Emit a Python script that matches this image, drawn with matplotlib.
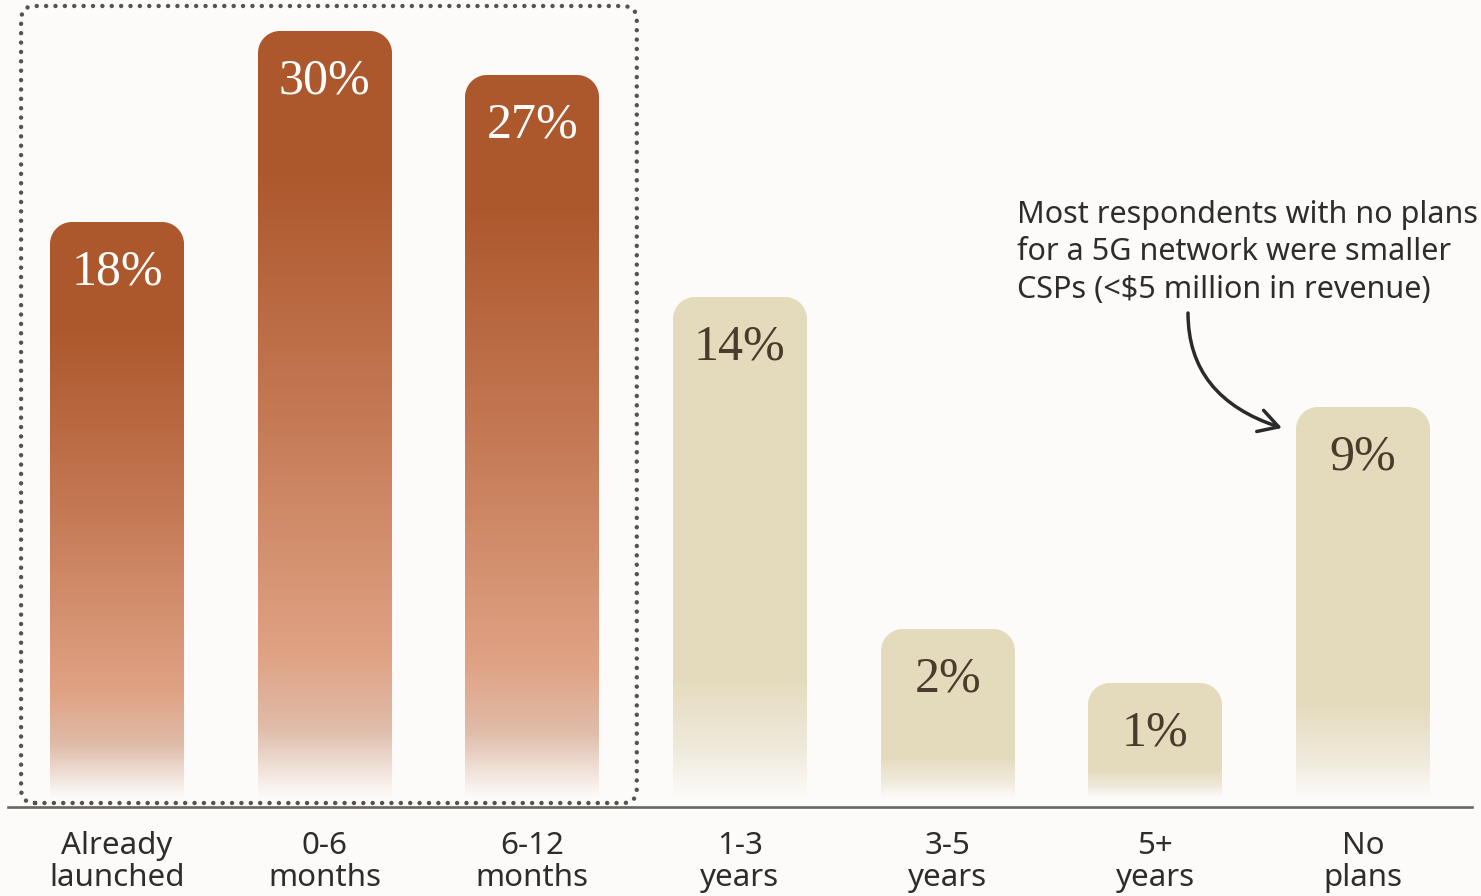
import numpy as np
import matplotlib
matplotlib.use("Agg")
import matplotlib.pyplot as plt
from matplotlib.patches import FancyBboxPatch, FancyArrowPatch
from matplotlib.colors import to_rgb
from matplotlib.transforms import IdentityTransform

# ---- data -------------------------------------------------------------
categories = ["Already\nlaunched", "0-6\nmonths", "6-12\nmonths",
              "1-3\nyears", "3-5\nyears", "5+\nyears", "No\nplans"]
shares = [18, 30, 27, 14, 2, 1, 9]
value_labels = ["18%", "30%", "27%", "14%", "2%", "1%", "9%"]
near_term = [True, True, True, False, False, False, False]
note = ("Most respondents with no plans\n"
        "for a 5G network were smaller\n"
        "CSPs (<$5 million in revenue)")

# ---- style ------------------------------------------------------------
W, H, DPI = 1481, 896, 100
BG = "#FCFBF9"
SANS = ["Noto Sans", "DejaVu Sans"]
SERIF = ["Liberation Serif", "DejaVu Serif"]
TEXT = "#2F2D2B"
RUST_STOPS = [(0.00, "#AD572C"), (0.18, "#AD572C"), (0.50, "#C47954"),
              (0.82, "#E0A385"), (0.91, "#DFBCA9"), (1.00, BG)]
SAND_STOPS = [(0.00, "#E4DBBD"), (0.76, "#E4DBBD"), (0.90, "#EFE9DA"),
              (1.00, BG)]
POWER = 0.56
Y_TOP = 32.2
BAR_W = 0.645
RADIUS = 22


def fwd(v):
    v = np.asarray(v, dtype=float)
    return np.sign(v) * np.abs(v) ** POWER


def inv(v):
    v = np.asarray(v, dtype=float)
    return np.sign(v) * np.abs(v) ** (1.0 / POWER)


def bar_image(w, h, stops, radius):
    t = (np.arange(h) + 0.5) / h
    pos = [s[0] for s in stops]
    cols = [to_rgb(s[1]) for s in stops]
    rgb = np.stack([np.interp(t, pos, [c[k] for c in cols]) for k in range(3)], axis=-1)
    img = np.ones((h, w, 4))
    img[:, :, :3] = rgb[:, None, :]
    yy, xx = np.mgrid[0:h, 0:w] + 0.5
    cx = np.clip(xx, radius, w - radius)
    cy = np.maximum(yy, radius)
    d = np.hypot(xx - cx, yy - cy)
    img[:, :, 3] = np.clip(radius - d + 0.5, 0, 1)
    return img


fig = plt.figure(figsize=(W / DPI, H / DPI), dpi=DPI, facecolor=BG)
ax = fig.add_axes([8 / W, (H - 797) / H, 1464 / W, 797 / H])
ax.set_facecolor("none")
ax.set_yscale("function", functions=(fwd, inv))
ax.set_xlim(-0.525, 6.525)
ax.set_ylim(0, Y_TOP)

x = np.arange(len(shares))
bars = ax.bar(x, shares, width=BAR_W, color="none", edgecolor="none")

# gradient fills with rounded tops, sized from each bar's extent
for patch, near in zip(bars, near_term):
    bb = patch.get_window_extent()
    x0, y0 = int(round(bb.x0)), int(round(bb.y0))
    w, h = int(round(bb.width)), int(round(bb.height))
    img = bar_image(w, h, RUST_STOPS if near else SAND_STOPS, RADIUS)
    fig.figimage(img, xo=x0, yo=y0, origin="upper", zorder=-1)

# value labels inside the bar tops
for xi, v, lbl, near in zip(x, shares, value_labels, near_term):
    ax.annotate(lbl, xy=(xi, v), xytext=(0, -45), textcoords="offset points",
                ha="center", va="baseline", fontsize=36, family=SERIF,
                color="#FFFFFF" if near else "#4B3B2C")

# axis styling
for side in ("top", "right", "left"):
    ax.spines[side].set_visible(False)
ax.spines["bottom"].set_position(("outward", 7.2))
ax.spines["bottom"].set_color("#6B6661")
ax.spines["bottom"].set_linewidth(1.9)
ax.yaxis.set_visible(False)
ax.set_xticks(x, categories)
ax.tick_params(axis="x", length=0, pad=17.5, labelsize=22.5, labelcolor=TEXT)
for lbl in ax.get_xticklabels():
    lbl.set_family(SANS)
    lbl.set_linespacing(1.08)

# dotted frame around the near-term group
left = ax.transData.transform((-0.462, 0))[0]
right = ax.transData.transform((2.503, 0))[0]
frame = FancyBboxPatch((left, H - 803), right - left, 803 - 6,
                       boxstyle="round,pad=0,rounding_size=14",
                       transform=IdentityTransform(), fill=False,
                       edgecolor="#57524E", linewidth=3.2,
                       linestyle=(0, (0.01, 2.1)), capstyle="round")
fig.add_artist(frame)

# callout
fig.text(1017 / W, 1 - 200 / H, note, ha="left", va="top", fontsize=22,
         family=SANS, color=TEXT, linespacing=1.32)
arrow = FancyArrowPatch((1188 / W, 1 - 313 / H), (1282 / W, 1 - 428 / H),
                        transform=fig.transFigure,
                        connectionstyle="angle3,angleA=90,angleB=-18",
                        arrowstyle="->,head_length=0.7,head_width=0.4",
                        mutation_scale=20, linewidth=2.5, color="#2A2A2A",
                        shrinkA=0, shrinkB=0)
fig.add_artist(arrow)

fig.savefig("out.png", dpi=DPI, facecolor=BG)
